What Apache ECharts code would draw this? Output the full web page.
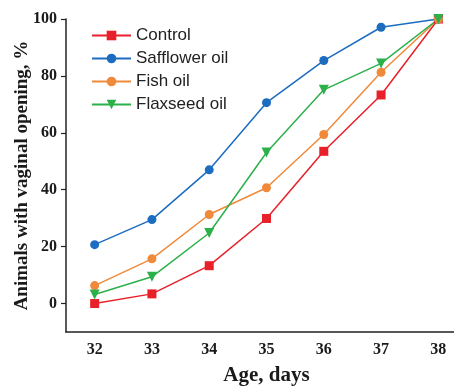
<!DOCTYPE html>
<html>
<head>
<meta charset="utf-8">
<script src="https://cdn.jsdelivr.net/npm/echarts@6/dist/echarts.min.js"></script>
<style>html,body{margin:0;padding:0;background:#fff}#c{width:454px;height:387px}</style>
</head>
<body>
<div id="c"></div>
<script>
const ages = ['32', '33', '34', '35', '36', '37', '38'];
const control = [0, 3.4, 13.3, 29.9, 53.5, 73.3, 100];
const safflower = [20.7, 29.5, 47.0, 70.6, 85.4, 97.1, 100];
const fish = [6.3, 15.7, 31.3, 40.7, 59.4, 81.3, 100];
const flaxseed = [3.2, 9.4, 24.8, 53.1, 75.1, 84.4, 100];
const yTicks = [0, 20, 40, 60, 80, 100];

const chart = echarts.init(document.getElementById('c'), null, {renderer: 'canvas'});
const serifBold = {fontFamily: 'Liberation Serif', fontWeight: 'bold', color: '#1a1a1a'};
function mk(name, data, color, symbol, size, rot) {
  return {
    name: name, type: 'line', data: data, symbol: symbol, symbolSize: size, symbolRotate: rot || 0,
    lineStyle: {color: color, width: 1.5}, itemStyle: {color: color},
    emphasis: {disabled: true}
  };
}
chart.setOption({
  animation: false,
  grid: {left: 66, right: -13, top: 19, bottom: 55, containLabel: false, outerBoundsMode: 'none'},
  legend: {
    orient: 'vertical', left: 86, top: 22, itemWidth: 39, itemHeight: 12, itemGap: 6,
    textStyle: {fontFamily: 'Liberation Sans', fontSize: 17, color: '#222'},
    data: ['Control', 'Safflower oil', 'Fish oil', 'Flaxseed oil']
  },
  xAxis: {
    type: 'category', data: ages, boundaryGap: true,
    name: 'Age, days', nameLocation: 'middle', nameGap: 33, nameMoveOverlap: false,
    nameTextStyle: Object.assign({fontSize: 21}, serifBold),
    axisLine: {onZero: false, lineStyle: {color: '#222', width: 1.5}},
    axisTick: {inside: true, length: 5, alignWithLabel: true, lineStyle: {color: '#222', width: 1.2}},
    axisLabel: Object.assign({fontSize: 16, margin: 10}, serifBold),
    splitLine: {show: false}
  },
  yAxis: {
    type: 'value', min: -10, max: 100,
    name: 'Animals with vaginal opening, %', nameLocation: 'middle', nameGap: 34, nameMoveOverlap: false,
    nameTextStyle: Object.assign({fontSize: 19}, serifBold),
    axisLine: {show: true, lineStyle: {color: '#222', width: 1.5}},
    axisTick: {show: true, length: 5, customValues: yTicks, lineStyle: {color: '#222', width: 1.2}},
    axisLabel: Object.assign({fontSize: 16, margin: 9, customValues: yTicks}, serifBold),
    splitLine: {show: false}
  },
  series: [
    mk('Control', control, '#e8202a', 'rect', 9),
    mk('Safflower oil', safflower, '#1c6cc0', 'circle', 9),
    mk('Fish oil', fish, '#f08a3a', 'circle', 9),
    mk('Flaxseed oil', flaxseed, '#2bb04a', 'triangle', 10, 180)
  ]
});
</script>
</body>
</html>
